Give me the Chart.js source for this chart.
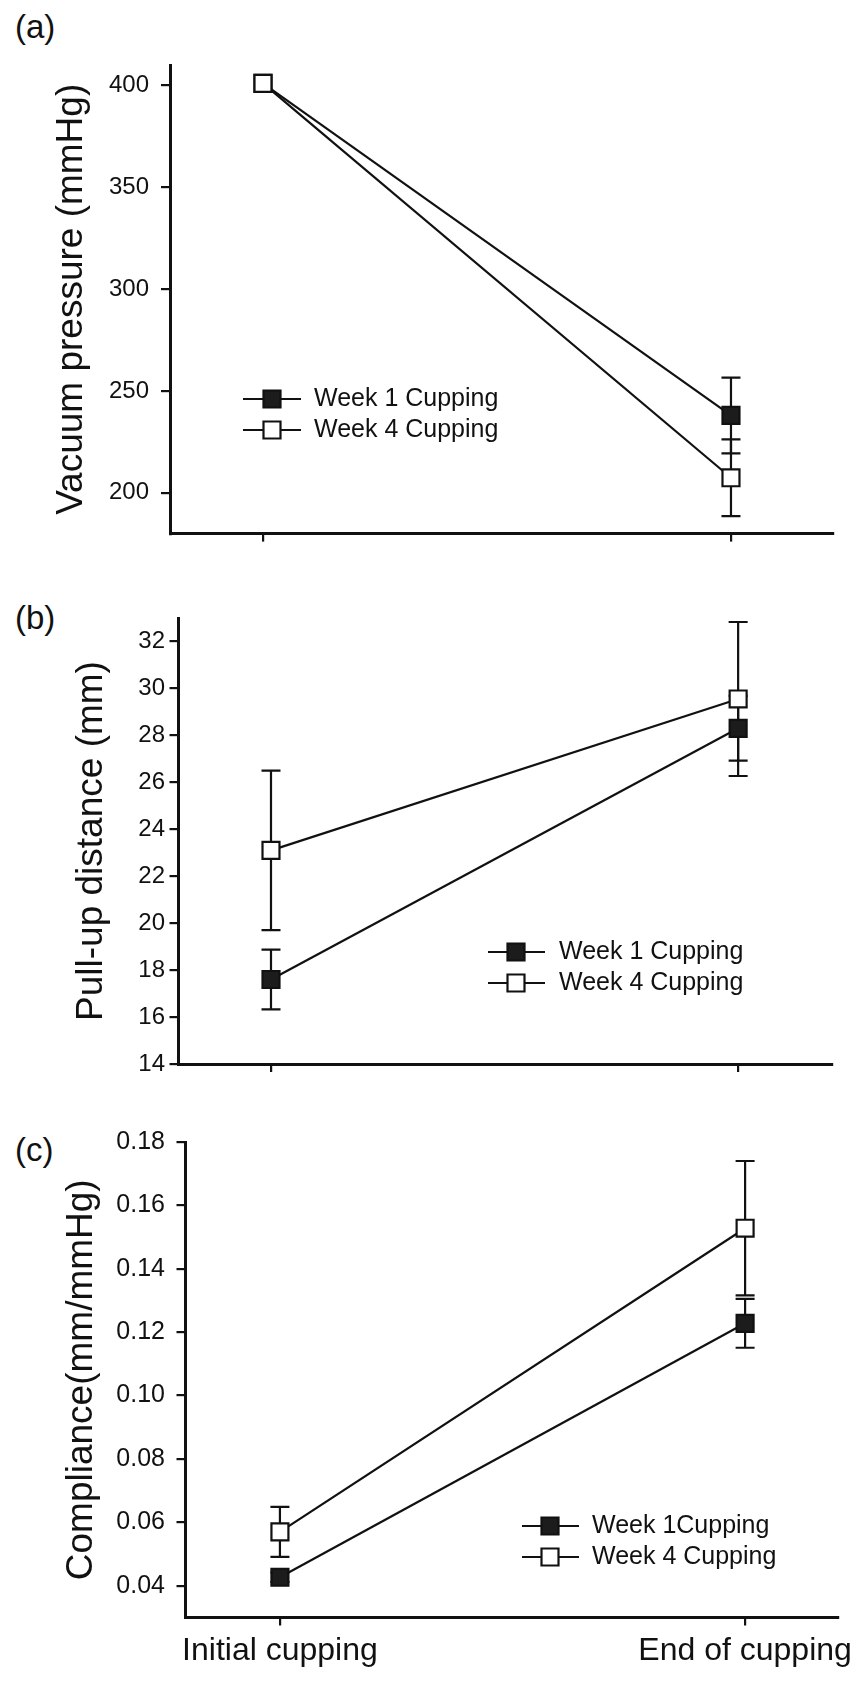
<!DOCTYPE html>
<html><head><meta charset="utf-8">
<script src="https://cdn.jsdelivr.net/npm/chart.js@4/dist/chart.umd.min.js"></script>
<style>
html,body{margin:0;padding:0;background:#fff;}
body{width:861px;height:1682px;position:relative;overflow:hidden;font-family:"Liberation Sans",Arial,sans-serif;}
canvas{position:absolute;left:0;}
.plabel{position:absolute;left:15px;font-size:33px;line-height:1;color:#111;font-family:"Liberation Sans",Arial,sans-serif;}
</style></head><body>
<div class="plabel" style="top:10px">(a)</div>
<div class="plabel" style="top:601px">(b)</div>
<div class="plabel" style="top:1133px">(c)</div>
<canvas id="ca" width="861" height="560" style="top:0px"></canvas>
<canvas id="cb" width="861" height="525" style="top:560px"></canvas>
<canvas id="cc" width="861" height="597" style="top:1085px"></canvas>
<script>
// ---------- data ----------
const categories = ['Initial cupping', 'End of cupping'];
const seriesLabelsAB = ['Week 1 Cupping', 'Week 4 Cupping'];
const seriesLabelsC = ['Week 1Cupping', 'Week 4 Cupping'];

const pressureWeek1 = [401, 238];
const pressureWeek1Err = [0, 18.6];
const pressureWeek4 = [401, 207.4];
const pressureWeek4Err = [0, 18.8];
const pressureTicks = [200, 250, 300, 350, 400];

const pullupWeek1 = [17.6, 28.3];
const pullupWeek1Err = [1.27, 1.38];
const pullupWeek4 = [23.1, 29.55];
const pullupWeek4Err = [3.4, 3.28];
const pullupTicks = [14, 16, 18, 20, 22, 24, 26, 28, 30, 32];

const complianceWeek1 = [0.0427, 0.1228];
const complianceWeek1Err = [0.0015, 0.0077];
const complianceWeek4 = [0.057, 0.1528];
const complianceWeek4Err = [0.0079, 0.0212];
const complianceTicks = [0.04, 0.06, 0.08, 0.10, 0.12, 0.14, 0.16, 0.18];

// ---------- helpers ----------
const FONT = '"Liberation Sans", Arial, sans-serif';
const INK = '#111';

const errorBars = {
  id: 'errorBars',
  beforeDatasetsDraw(chart) {
    const ctx = chart.ctx, xs = chart.scales.x, ys = chart.scales.y;
    chart.data.datasets.forEach(ds => {
      if (!ds.errors) return;
      ds.data.forEach((pt, j) => {
        const e = ds.errors[j];
        if (!e) return;
        const px = xs.getPixelForValue(pt.x);
        const top = ys.getPixelForValue(pt.y + e);
        const bot = ys.getPixelForValue(pt.y - e);
        ctx.save();
        ctx.strokeStyle = INK; ctx.lineWidth = 2.2;
        ctx.beginPath();
        ctx.moveTo(px, top); ctx.lineTo(px, bot);
        ctx.moveTo(px - 9.5, top); ctx.lineTo(px + 9.5, top);
        ctx.moveTo(px - 9.5, bot); ctx.lineTo(px + 9.5, bot);
        ctx.stroke();
        ctx.restore();
      });
    });
  }
};

const insetLegend = {
  id: 'insetLegend',
  afterDatasetsDraw(chart, args, o) {
    if (!o || o.x0 === undefined) return;
    const ctx = chart.ctx;
    chart.data.datasets.forEach((ds, i) => {
      const y = o.y + i * o.gap;
      ctx.save();
      ctx.strokeStyle = INK; ctx.lineWidth = 2.2;
      ctx.beginPath(); ctx.moveTo(o.x0, y); ctx.lineTo(o.x1, y); ctx.stroke();
      const s = 17;
      ctx.fillStyle = ds.pointBackgroundColor;
      ctx.beginPath(); ctx.rect(o.mx - s / 2, y - s / 2, s, s); ctx.fill(); ctx.stroke();
      ctx.fillStyle = INK;
      ctx.font = o.size + 'px ' + FONT;
      ctx.textBaseline = 'middle'; ctx.textAlign = 'left';
      ctx.fillText(ds.label, o.tx, y);
      ctx.restore();
    });
  }
};

function pts(arr) { return arr.map((v, i) => ({ x: i, y: v })); }

function makeDatasets(labels, w1, e1, w4, e4) {
  const common = { borderColor: INK, borderWidth: 2.2, pointStyle: 'rect', pointRadius: 12,
    pointHoverRadius: 12, pointBorderWidth: 2.2, pointBorderColor: INK, fill: false, tension: 0 };
  return [
    Object.assign({}, common, { label: labels[0], data: pts(w1), errors: e1, order: 1,
      pointBackgroundColor: '#1c1c1c', backgroundColor: '#1c1c1c' }),
    Object.assign({}, common, { label: labels[1], data: pts(w4), errors: e4, order: 0,
      pointBackgroundColor: '#ffffff', backgroundColor: '#ffffff' })
  ];
}

function makeChart(id, cfg) {
  const H = document.getElementById(id).height;
  return new Chart(document.getElementById(id), {
    type: 'line',
    data: { datasets: cfg.datasets },
    plugins: [errorBars, insetLegend],
    options: {
      responsive: false, animation: false, devicePixelRatio: 1,
      layout: { padding: { left: 0, top: cfg.area.top, right: 861 - cfg.area.right, bottom: 0 } },
      plugins: { legend: { display: false }, tooltip: { enabled: false }, insetLegend: cfg.legend },
      scales: {
        x: {
          type: 'linear', min: cfg.xmin, max: cfg.xmax,
          afterBuildTicks: s => { s.ticks = categories.map((c, i) => ({ value: i })); },
          afterFit: s => { s.height = H - cfg.area.bottom; },
          grid: { display: true, drawOnChartArea: false, drawTicks: true, tickLength: 8, color: INK, lineWidth: 2.2 },
          border: { display: true, color: INK, width: 3 },
          ticks: { display: cfg.showX, autoSkip: false, maxRotation: 0, padding: 6, color: INK,
            font: { family: FONT, size: 32, lineHeight: 1.2 },
            callback: v => (cfg.showX ? categories[v] : '') }
        },
        y: {
          type: 'linear', min: cfg.ymin, max: cfg.ymax,
          afterBuildTicks: s => { s.ticks = cfg.ticks.map(v => ({ value: v })); },
          afterFit: s => { s.width = cfg.area.left; },
          grid: { display: true, drawOnChartArea: false, drawTicks: true, tickLength: 9, color: INK, lineWidth: 2.2 },
          border: { display: true, color: INK, width: 3 },
          ticks: { autoSkip: false, padding: cfg.tickPad, color: INK,
            font: { family: FONT, size: cfg.tickSize },
            callback: v => cfg.fmt(v) },
          title: { display: true, text: cfg.title, color: INK,
            font: { family: FONT, size: 37, lineHeight: 1 },
            padding: { top: cfg.titleX - 18.5, bottom: 0 } }
        }
      }
    }
  });
}

makeChart('ca', {
  datasets: makeDatasets(seriesLabelsAB, pressureWeek1, pressureWeek1Err, pressureWeek4, pressureWeek4Err),
  area: { left: 170, top: 65, right: 833, bottom: 540 },
  xmin: -0.1987, xmax: 1.218, ymin: 180, ymax: 410, ticks: pressureTicks,
  fmt: v => String(v), tickSize: 24, tickPad: 12, titleX: 72,
  title: 'Vacuum pressure (mmHg)', showX: false,
  legend: { x0: 243, x1: 301, mx: 272, tx: 314, y: 399, gap: 31, size: 25 }
});

makeChart('cb', {
  datasets: makeDatasets(seriesLabelsAB, pullupWeek1, pullupWeek1Err, pullupWeek4, pullupWeek4Err),
  area: { left: 178.5, top: 58, right: 832.5, bottom: 504 },
  xmin: -0.198, xmax: 1.202, ymin: 14, ymax: 33, ticks: pullupTicks,
  fmt: v => String(v), tickSize: 24, tickPad: 4.5, titleX: 92,
  title: 'Pull-up distance (mm)', showX: false,
  legend: { x0: 488, x1: 545, mx: 516, tx: 559, y: 392, gap: 31, size: 25 }
});

makeChart('cc', {
  datasets: makeDatasets(seriesLabelsC, complianceWeek1, complianceWeek1Err, complianceWeek4, complianceWeek4Err),
  area: { left: 185.5, top: 57, right: 839, bottom: 532.5 },
  xmin: -0.203, xmax: 1.201, ymin: 0.03, ymax: 0.18, ticks: complianceTicks,
  fmt: v => v.toFixed(2), tickSize: 25, tickPad: 11.5, titleX: 82,
  title: 'Compliance(mm/mmHg)', showX: true,
  legend: { x0: 522, x1: 579, mx: 550, tx: 592, y: 441, gap: 31, size: 25 }
});
</script>
</body></html>
